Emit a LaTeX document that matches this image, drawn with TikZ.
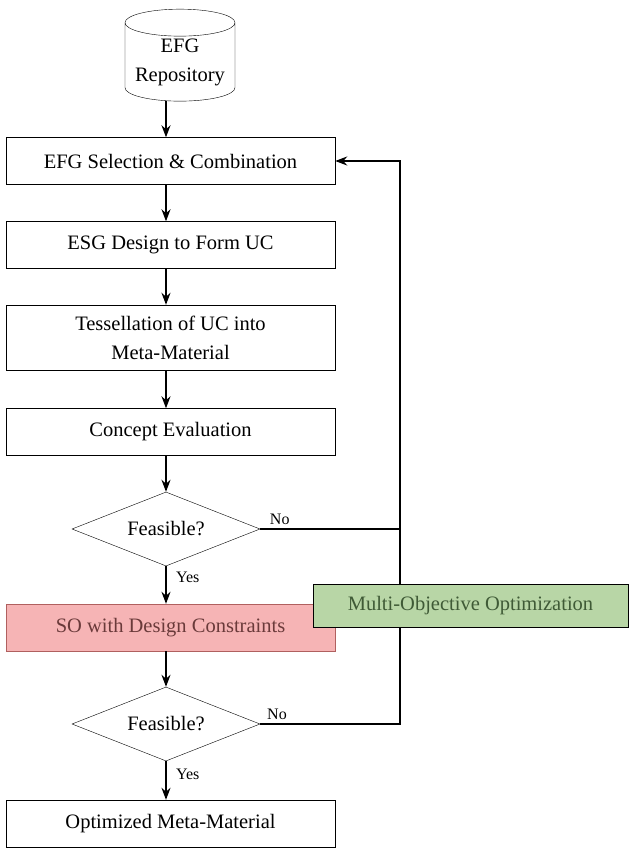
\documentclass[tikz,border=0pt]{standalone}
\usepackage{fontspec}
\setmainfont{Liberation Serif}
\usepackage{xcolor}
\usepackage{tikz}
\usetikzlibrary{arrows.meta, positioning, shapes.geometric, calc}
\definecolor{SOred}{HTML}{F6B4B5}
\definecolor{SOline}{HTML}{B0605F}
\definecolor{SOtext}{HTML}{6A3A3A}
\definecolor{MOgreen}{HTML}{B8D6A6}
\definecolor{MOtext}{HTML}{3F5A36}

\tikzset{
  procbox/.style={draw, thin, minimum width=329pt, minimum height=47pt, align=center, inner sep=2pt},
  decide/.style={draw, thin, diamond, aspect=2.5, minimum width=188pt, minimum height=74pt, inner sep=0pt},
  flow/.style={line width=1.5pt, -{Stealth[length=12pt,width=9pt]}},
  plain/.style={line width=1.5pt},
  lbl/.style={font=\fontsize{16}{18}\selectfont}
}

\begin{document}
\begin{tikzpicture}[x=1pt, y=-1pt, font=\fontsize{20.5}{29}\selectfont]
  \useasboundingbox (0,0) rectangle (629,848);
  \coordinate (axis) at (166,0);
  \coordinate (loop) at (400,0);

  \node[draw, thin, cylinder, shape border rotate=90, aspect=0.3, inner sep=0pt,
        minimum width=110pt, minimum height=92pt, align=center] (repo) at (180,62) {EFG\\Repository};
  \node[procbox] (select) at (170.5,161) {EFG Selection \& Combination};
  \node[procbox] (esg) at (170.5,245) {ESG Design to Form UC};
  \node[procbox, minimum height=65pt] (tess) at (170.5,337.5) {Tessellation of UC into\\Meta-Material};
  \node[procbox] (eval) at (170.5,432) {Concept Evaluation};
  \node[decide] (feas1) at (166,529) {Feasible?};
  \node[procbox, fill=SOred, draw=SOline, text=SOtext] (so) at (170.5,627.5) {SO with Design Constraints};
  \node[decide] (feas2) at (166,724) {Feasible?};
  \node[procbox] (final) at (170.5,823.5) {Optimized Meta-Material};

  % main chain
  \draw[flow] (repo.south -| axis) -- (select.north -| axis);
  \draw[flow] (select.south -| axis) -- (esg.north -| axis);
  \draw[flow] (esg.south -| axis) -- (tess.north -| axis);
  \draw[flow] (tess.south -| axis) -- (eval.north -| axis);
  \draw[flow] (eval.south -| axis) -- (feas1.north);
  \draw[flow] (feas1.south) -- node[lbl, right=6pt, pos=0.3] {Yes} (so.north -| axis);
  \draw[flow] (so.south -| axis) -- (feas2.north);
  \draw[flow] (feas2.south) -- node[lbl, right=6pt, pos=0.35] {Yes} (final.north -| axis);

  % feedback loop
  \draw[plain] (feas1.east) -- node[lbl, above, pos=0.14] {No} (feas1.east -| loop);
  \draw[plain] (feas2.east) -- node[lbl, above, pos=0.12] {No} (feas2.east -| loop) -- (feas1.east -| loop);
  \draw[flow] (feas1.east -| loop) |- (select.east);

  \node[draw, thin, fill=MOgreen, text=MOtext, minimum width=315pt, minimum height=43pt] (moo) at (470.5,605.5) {Multi-Objective Optimization};
\end{tikzpicture}
\end{document}
